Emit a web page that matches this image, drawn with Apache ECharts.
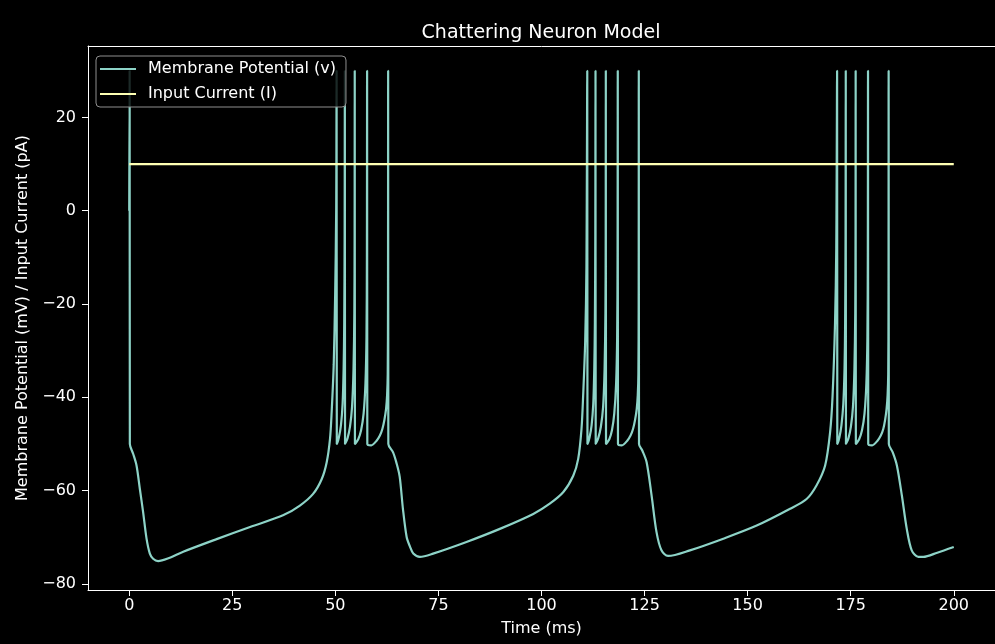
<!DOCTYPE html>
<html>
<head>
<meta charset="utf-8">
<script src="https://cdn.jsdelivr.net/npm/echarts@6/dist/echarts.min.js"></script>
<style>
html,body{margin:0;padding:0;background:#000;}
#chart{width:995px;height:644px;}
</style>
</head>
<body>
<div id="chart"></div>
<script>
// Time points (ms) for membrane potential trace
var vTime = [
  0, 0.1, 0.15, 0.95, 1.77, 2.57, 3.37, 4.2, 5.0, 5.8, 7.0, 9.5, 13.1, 21.2, 29.3, 37.3, 41.4, 44.6, 46.7, 47.9, 48.7, 49.1, 49.6, 49.95, 50.2, 50.3, 50.35,
  50.85, 51.35, 51.75, 52.0, 52.15, 52.25, 52.3, 52.35,
  52.95, 53.55, 54.05, 54.4, 54.6, 54.67, 54.7, 54.75,
  55.55, 56.25, 56.85, 57.3, 57.55, 57.65, 57.7, 57.75,
  58.7, 60.0, 60.8, 61.4, 61.9, 62.3, 62.55, 62.7, 62.77, 62.8, 62.85,
  64.0, 64.8, 65.6, 66.4, 67.3, 68.1, 68.9, 70.5,
  73.7, 81.8, 89.9, 98.0, 102.0, 105.3, 107.7, 108.9, 109.7, 110.1, 110.6, 110.9, 111.1, 111.15,
  111.65, 112.15, 112.55, 112.8, 112.95, 113.05, 113.1, 113.15,
  113.75, 114.4, 114.95, 115.3, 115.5, 115.57, 115.6, 115.65,
  116.45, 117.1, 117.65, 118.1, 118.35, 118.45, 118.5, 118.55,
  119.5, 120.8, 121.6, 122.2, 122.7, 123.1, 123.35, 123.5, 123.57, 123.6, 123.65,
  124.5, 125.5, 126.7, 127.9, 129.1, 130.7,
  136.0, 144.1, 152.2, 160.3, 164.3, 166.7, 168.8, 170.0, 170.6, 171.2, 171.5, 171.7, 171.75,
  172.25, 172.75, 173.2, 173.5, 173.65, 173.75, 173.8, 173.85,
  174.45, 175.05, 175.55, 175.9, 176.1, 176.17, 176.2, 176.25,
  177.05, 177.75, 178.35, 178.8, 179.05, 179.15, 179.2, 179.25,
  180.2, 181.5, 182.3, 182.9, 183.35, 183.7, 183.95, 184.1, 184.17, 184.2, 184.25,
  185.2, 186.2, 187.4, 188.6, 189.8, 191.4, 192.6, 196.0, 200.0
];
// Membrane potential values (mV)
var vMembrane = [
  0, 30, -50, -52.1, -54.6, -59.6, -64.6, -70.3, -73.5, -74.6, -75.1, -74.5, -73.1, -70.4, -67.8, -65.3, -63.2, -60.7, -57.5, -53.9, -48.9, -43.2, -33, -18, 0, 30, -50,
  -48.6, -46, -41.5, -34, -24, -5, 30, -50,
  -48.8, -46.3, -42, -34, -22, -5, 30, -50,
  -49, -47, -43.5, -37, -27, -10, 30, -50,
  -50.3, -49.3, -48.2, -46.8, -44.8, -42.5, -39.5, -35, -20, 30, -50,
  -51.8, -54, -57, -64, -70, -72, -73.5, -74.2,
  -73.5, -71.0, -68.2, -65.0, -62.8, -60.3, -56.8, -53.2, -46.8, -39.7, -28, -12, 30, -50,
  -48.6, -46, -41.5, -34, -24, -5, 30, -50,
  -48.8, -46.3, -42, -34, -22, -5, 30, -50,
  -49, -47, -43.5, -37, -27, -10, 30, -50,
  -50.3, -49.3, -48.2, -46.8, -44.8, -42.5, -39.5, -35, -20, 30, -50,
  -51.5, -53.9, -61.0, -68.9, -72.8, -74.0,
  -72.8, -70.3, -67.5, -63.9, -61.8, -58.9, -54.6, -47.5, -39.7, -24, -8, 30, -50,
  -48.6, -46, -41.5, -34, -24, -5, 30, -50,
  -48.8, -46.3, -42, -34, -22, -5, 30, -50,
  -49, -47, -43.5, -37, -27, -10, 30, -50,
  -50.3, -49.3, -48.2, -46.8, -44.8, -42.5, -39.5, -35, -20, 30, -50,
  -51.8, -54.6, -61.0, -68.2, -72.8, -74.2, -74.2, -73.3, -72.1
];
// Input current (pA)
var iTime = [0, 200];
var iCurrent = [10, 10];

var xTicks = [0, 25, 50, 75, 100, 125, 150, 175, 200];
var yTicks = [-80, -60, -40, -20, 0, 20];

var vData = vTime.map(function (t, i) { return [t, vMembrane[i]]; });
var iData = iTime.map(function (t, i) { return [t, iCurrent[i]]; });

function fmt(v) { return v < 0 ? '\u2212' + Math.abs(v) : String(v); }

var FONT = 'DejaVu Sans';
var chart = echarts.init(document.getElementById('chart'), null, {renderer: 'canvas'});
chart.setOption({
  backgroundColor: '#000000',
  animation: false,
  title: {
    text: 'Chattering Neuron Model',
    left: 536, top: 19, textAlign: 'center',
    textStyle: {color: '#ffffff', fontFamily: FONT, fontSize: 19, fontWeight: 'normal'}
  },
  legend: {
    left: 96, top: 56, orient: 'vertical',
    icon: 'rect', itemWidth: 36, itemHeight: 2, itemGap: 9,
    padding: [5, 10, 5, 4],
    backgroundColor: 'rgba(0,0,0,0.8)',
    borderColor: '#8f8f8f', borderWidth: 1, borderRadius: 4,
    textStyle: {color: '#ffffff', fontFamily: FONT, fontSize: 16, lineHeight: 16, padding: [0, 0, 0, 7]},
    data: ['Membrane Potential (v)', 'Input Current (I)']
  },
  grid: {
    left: 88, right: 0, top: 46, bottom: 54, show: false
  },
  xAxis: [{
    type: 'value', min: -10, max: 210,
    name: 'Time (ms)', nameLocation: 'middle', nameGap: 31,
    nameTextStyle: {color: '#ffffff', fontFamily: FONT, fontSize: 16},
    axisLine: {show: true, onZero: false, lineStyle: {color: '#ffffff', width: 1}},
    axisTick: {show: true, length: 6, lineStyle: {color: '#ffffff'}, customValues: xTicks},
    axisLabel: {color: '#ffffff', fontFamily: FONT, fontSize: 16, margin: 8, customValues: xTicks, formatter: fmt},
    splitLine: {show: false}
  }, {
    type: 'value', min: -10, max: 210, position: 'top',
    axisLine: {show: true, onZero: false, lineStyle: {color: '#ffffff', width: 1}},
    axisTick: {show: false}, axisLabel: {show: false}, splitLine: {show: false}
  }],
  yAxis: {
    type: 'value', min: -81.3, max: 35.3,
    name: 'Membrane Potential (mV) / Input Current (pA)', nameLocation: 'middle', nameGap: 55,
    nameTextStyle: {color: '#ffffff', fontFamily: FONT, fontSize: 16},
    axisLine: {show: true, onZero: false, lineStyle: {color: '#ffffff', width: 1}},
    axisTick: {show: true, length: 6, lineStyle: {color: '#ffffff'}, customValues: yTicks},
    axisLabel: {color: '#ffffff', fontFamily: FONT, fontSize: 16, margin: 12, customValues: yTicks, formatter: fmt},
    splitLine: {show: false}
  },
  series: [
    {
      name: 'Membrane Potential (v)', type: 'line', data: vData,
      showSymbol: false, symbol: 'none', smooth: 0.3,
      lineStyle: {color: '#8dd3c7', width: 2.2}, itemStyle: {color: '#8dd3c7'}, z: 2
    },
    {
      name: 'Input Current (I)', type: 'line', data: iData,
      showSymbol: false, symbol: 'none',
      lineStyle: {color: '#feffb3', width: 2.2}, itemStyle: {color: '#feffb3'}, z: 3
    }
  ]
});
</script>
</body>
</html>
